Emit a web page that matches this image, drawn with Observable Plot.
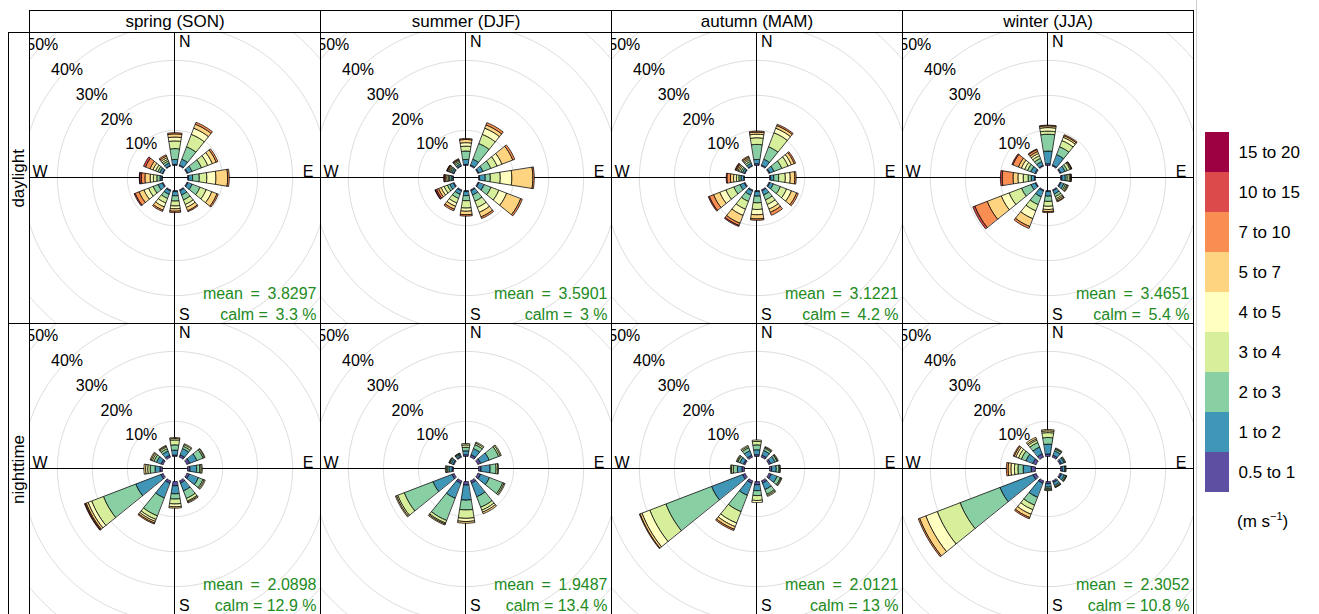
<!DOCTYPE html>
<html>
<head>
<meta charset="utf-8">
<script src="https://cdn.jsdelivr.net/npm/d3@7"></script>
<script src="https://cdn.jsdelivr.net/npm/@observablehq/plot@0.6"></script>
<style>
  body { margin: 0; background: #fff; font-family: "Liberation Sans", Arial, sans-serif; }
  #wrap { position: relative; width: 1319px; height: 614px; overflow: hidden; background: #fff; }
  .strip { position: absolute; box-sizing: border-box; border: 1px solid #000; background: #fff;
           font-size: 17px; display: flex; align-items: center; justify-content: center; color: #000; }
  .vstrip span { writing-mode: vertical-rl; transform: rotate(180deg); }
  #main { position: absolute; left: 29px; top: 32px; }
  #legend { position: absolute; left: 1205px; top: 131px; }
  #unit { position: absolute; left: 1237px; top: 510px; font-size: 17px; }
  #unit sup { font-size: 11px; }
  #vline { position: absolute; left: 1196px; top: 0; width: 1px; height: 614px; background: #cfcfcf; }
</style>
</head>
<body>
<div id="wrap"></div>
<script>
// ---------- data ----------
const seasons = ["spring (SON)", "summer (DJF)", "autumn (MAM)", "winter (JJA)"];
const periods = ["daylight", "nighttime"];
const directions = [0, 30, 60, 90, 120, 150, 180, 210, 240, 270, 300, 330];
const speedBins = ["0.5 to 1", "1 to 2", "2 to 3", "3 to 4", "4 to 5", "5 to 7", "7 to 10", "10 to 15", "15 to 20"];
const binColors = ["#5E4FA2", "#3F96B7", "#88CFA4", "#D7EF9B", "#FFFFBF", "#FED481", "#F98E52", "#DD4A4C", "#9E0142"];
const ringTicks = [10, 20, 30, 40, 50];

// frequency (%) per direction (rows, 0..330 deg) and speed bin (columns)
const springDay = [
  [0.3, 1.4, 3.1, 2.2, 1.1, 0.9, 0.35],
  [0.3, 1.8, 3.8, 3.8, 1.9, 1.2, 0.6],
  [0.3, 1.3, 2.9, 1.9, 1.4, 1.2, 0.5],
  [0.3, 1.15, 1.9, 2.15, 2.6, 3.35, 0.45],
  [0.3, 1.3, 2.4, 1.9, 1.7, 1.6, 0.4],
  [0.3, 1.3, 1.5, 1.4, 0.9, 1.0, 0.3],
  [0.3, 1.2, 1.5, 1.4, 0.8, 0.7, 0.4],
  [0.3, 1.05, 1.25, 1.4, 1.2, 1.0, 0.4],
  [0.3, 1.3, 1.5, 1.4, 1.4, 1.5, 1.2, 0.3],
  [0.2, 0.5, 0.9, 1.0, 0.9, 1.5, 1.0, 0.5, 0.1],
  [0.2, 0.8, 0.6, 0.7, 0.8, 0.9, 1.4, 0.6],
  [0.2, 0.8, 0.6, 0.5, 0.5, 0.5, 0.4]
];
const summerDay = [
  [0.3, 1.4, 2.4, 1.4, 1.0, 0.9, 0.3],
  [0.3, 1.8, 4.8, 2.8, 1.9, 1.0, 0.7],
  [0.3, 1.3, 2.4, 1.9, 1.5, 3.3, 0.6],
  [0.3, 1.6, 1.45, 2.85, 3.3, 6.0, 0.4],
  [0.3, 1.6, 2.1, 2.4, 2.4, 4.3, 0.5],
  [0.3, 1.3, 1.9, 1.9, 1.5, 1.4, 0.5],
  [0.3, 1.15, 1.45, 2.1, 0.9, 1.0, 0.4],
  [0.3, 1.05, 1.25, 1.4, 1.0, 0.9, 0.5],
  [0.3, 1.05, 0.75, 1.0, 0.9, 0.8, 0.6, 0.4, 0.1],
  [0.2, 0.5, 0.5, 0.3, 0.4, 0.4, 0.3, 0.2],
  [0.2, 0.5, 0.4, 0.3, 0.3, 0.3, 0.2, 0.1],
  [0.2, 0.5, 0.5, 0.4, 0.3, 0.2, 0.2]
];
const autumnDay = [
  [0.5, 1.2, 4.3, 1.9, 1.0, 0.6, 0.3],
  [0.3, 1.8, 3.8, 4.3, 1.4, 0.8, 0.4],
  [0.3, 1.3, 2.4, 1.9, 1.0, 0.9, 0.4],
  [0.3, 0.9, 1.4, 1.9, 1.4, 1.3, 0.4],
  [0.3, 1.05, 2.15, 1.9, 1.5, 1.6, 0.5],
  [0.3, 1.3, 1.5, 1.4, 1.4, 1.0, 0.9],
  [0.3, 1.3, 1.9, 1.9, 1.5, 1.2, 0.4],
  [0.3, 1.3, 1.9, 2.4, 1.9, 2.4, 0.7, 0.3],
  [0.3, 1.3, 1.9, 2.4, 1.9, 1.9, 1.3, 0.3],
  [0.2, 0.8, 0.6, 0.7, 0.8, 0.9, 1.0, 0.2],
  [0.2, 0.6, 0.5, 0.5, 0.4, 0.4, 0.3, 0.2],
  [0.2, 0.7, 0.6, 0.5, 0.4, 0.4, 0.3]
];
const winterDay = [
  [0.5, 3.6, 4.8, 0.9, 1.0, 0.5, 0.2],
  [0.3, 3.2, 2.4, 1.9, 1.0, 0.5, 0.3],
  [0.3, 1.3, 0.7, 0.8, 0.3, 0.2, 0.1],
  [0.4, 0.95, 0.55, 0.6, 0.3, 0.2, 0.1],
  [0.3, 0.9, 0.5, 0.4, 0.3, 0.2],
  [0.3, 1.0, 0.8, 0.6, 0.4, 0.4, 0.2],
  [0.3, 1.3, 1.5, 1.4, 0.9, 0.6, 0.3],
  [0.3, 1.8, 2.4, 1.9, 2.4, 2.4, 0.6],
  [0.3, 1.3, 2.9, 3.8, 2.4, 4.3, 3.8, 0.6],
  [0.3, 0.9, 0.9, 1.4, 1.5, 1.4, 3.1, 0.5],
  [0.3, 1.3, 1.0, 0.9, 1.0, 0.9, 1.7, 0.3],
  [0.3, 1.1, 1.0, 0.8, 0.7, 0.6, 0.6, 0.2]
];
const springNight = [
  [0.4, 1.4, 1.5, 1.4, 0.4, 0.3],
  [0.7, 1.9, 0.7, 0.5, 0.3],
  [0.9, 2.2, 1.9, 0.4, 0.2],
  [0.7, 1.9, 0.9, 0.4, 0.3],
  [0.7, 2.8, 1.4, 0.4, 0.3],
  [0.7, 2.4, 2.3, 0.8, 0.3, 0.3],
  [1.2, 2.3, 1.5, 1.4, 0.8, 0.4],
  [0.7, 4.5, 5.5, 1.1, 0.6, 0.5, 0.3],
  [0.7, 7.7, 9.9, 3.6, 1.1, 0.6, 0.3, 0.2],
  [0.7, 1.4, 1.4, 0.7, 0.6, 0.5],
  [0.6, 1.4, 0.8, 0.5, 0.4, 0.3],
  [0.6, 1.3, 0.7, 0.5, 0.3, 0.2]
];
const summerNight = [
  [0.5, 1.1, 1.0, 0.7, 0.4],
  [0.7, 1.9, 1.2, 0.5, 0.3],
  [0.9, 2.6, 2.9, 0.5, 0.3],
  [0.7, 2.6, 1.7, 0.5, 0.2],
  [0.8, 2.7, 4.1, 0.4, 0.3],
  [0.7, 4.2, 3.2, 0.9, 0.6, 0.5],
  [1.0, 4.3, 2.8, 2.4, 0.9, 0.5],
  [0.7, 4.6, 6.8, 0.8, 0.3, 0.3],
  [0.7, 5.8, 8.8, 2.0, 0.4, 0.3],
  [0.4, 0.9, 0.5, 0.3, 0.2],
  [0.3, 0.6, 0.4, 0.2, 0.1],
  [0.3, 0.5, 0.3, 0.1, 0.1]
];
const autumnNight = [
  [0.5, 1.4, 1.4, 1.0, 0.4],
  [0.6, 1.4, 0.7, 0.3, 0.2],
  [0.6, 1.3, 0.6, 0.2, 0.2],
  [0.6, 1.3, 0.8, 0.2, 0.2],
  [0.7, 1.8, 1.0, 0.3, 0.2],
  [0.7, 2.0, 1.4, 0.4, 0.3],
  [0.9, 1.7, 1.4, 1.4, 0.6],
  [0.7, 3.7, 5.0, 3.5, 1.1, 0.8, 0.4],
  [0.8, 9.5, 14.0, 4.9, 2.4, 0.6, 0.2],
  [0.7, 1.3, 1.2, 0.5, 0.3],
  [0.5, 1.1, 0.6, 0.3, 0.2],
  [0.6, 1.4, 0.9, 0.4, 0.3]
];
const winterNight = [
  [0.7, 2.8, 1.9, 1.4, 0.5, 0.4],
  [0.6, 1.3, 0.5, 0.2, 0.2],
  [0.5, 0.8, 0.3, 0.2],
  [0.5, 0.7, 0.2, 0.2],
  [0.5, 0.9, 0.4, 0.2, 0.1],
  [0.5, 0.9, 0.4, 0.2, 0.1],
  [0.6, 1.0, 0.5, 0.3, 0.2],
  [0.7, 4.3, 2.4, 1.4, 1.4, 1.0, 0.4],
  [1.0, 10.1, 12.2, 7.0, 3.5, 1.9, 0.4],
  [1.2, 2.3, 1.5, 1.0, 1.0, 0.8, 0.5],
  [1.0, 2.1, 1.4, 0.9, 0.8, 0.5, 0.3],
  [1.0, 2.1, 1.4, 0.7, 0.4, 0.5]
];
const roses = [springDay, summerDay, autumnDay, winterDay, springNight, summerNight, autumnNight, winterNight];
const meanSpeed = ["3.8297", "3.5901", "3.1221", "3.4651", "2.0898", "1.9487", "2.0121", "2.3052"];
const calmPct = ["3.3", "3", "4.2", "5.4", "12.9", "13.4", "13", "10.8"];

// ---------- geometry helpers (polar -> cartesian in % units) ----------
const offset = 3.6;      // centre hole (10% of max frequency)
const L = 41.57;         // half extent of each panel
const halfWidth = 9;     // half angular width of each paddle (deg)
const rad = Math.PI / 180;

const panels = roses.map((rose, p) => ({
  season: seasons[p % 4], period: periods[Math.floor(p / 4)],
  rose, mean: meanSpeed[p], calm: calmPct[p]
}));

const verts = [];
panels.forEach((pn, p) => {
  pn.rose.forEach((freqs, i) => {
    const a = directions[i];
    let cum = 0;
    freqs.forEach((f, k) => {
      if (!(f > 0)) return;
      const r1 = offset + cum, r2 = offset + cum + f;
      cum += f;
      const id = `${p}-${i}-${k}`;
      const n = 8, pts = [];
      for (let j = 0; j <= n; j++) pts.push(a - halfWidth + (2 * halfWidth * j) / n);
      for (const t of pts) verts.push({id, season: pn.season, period: pn.period, cat: speedBins[k], x: r2 * Math.sin(t * rad), y: r2 * Math.cos(t * rad)});
      for (const t of pts.slice().reverse()) verts.push({id, season: pn.season, period: pn.period, cat: speedBins[k], x: r1 * Math.sin(t * rad), y: r1 * Math.cos(t * rad)});
    });
  });
});

const ringVerts = [];
for (const t of ringTicks) {
  for (let a = 0; a < 360; a += 2) {
    ringVerts.push({ring: t, x: (t + offset) * Math.sin(a * rad), y: (t + offset) * Math.cos(a * rad)});
  }
}

const font = '"Liberation Sans", Arial, sans-serif';
const green = "#228B22";
const calmLabel = c => `calm = ${parseFloat(c) < 10 ? "\u2009" : ""}${c} %`;

const main = Plot.plot({
  width: 1164, height: 582, margin: 0,
  x: {domain: [-L, L], axis: null},
  y: {domain: [-L, L], axis: null},
  fx: {domain: seasons, axis: null, padding: 0},
  fy: {domain: periods, axis: null, padding: 0},
  color: {domain: speedBins, range: binColors},
  style: {fontFamily: font, fontSize: "16px", overflow: "visible", background: "transparent", color: "#000"},
  marks: [
    Plot.line(ringVerts, {x: "x", y: "y", z: "ring", stroke: "#dddddd", strokeWidth: 1, curve: "linear-closed", clip: true}),
    Plot.ruleX([0], {stroke: "#000", strokeWidth: 1, dx: -0.5}),
    Plot.ruleY([0], {stroke: "#000", strokeWidth: 1, dy: -0.5}),
    Plot.line(verts, {x: "x", y: "y", z: "id", fx: "season", fy: "period", fill: "cat", stroke: "#000", strokeWidth: 0.75, curve: "linear-closed", clip: true}),
    Plot.text(ringTicks, {x: d => -(d + offset) * Math.SQRT1_2, y: d => (d + offset) * Math.SQRT1_2, text: d => `${d}%`, fontSize: 16, fill: "#000", clip: true}),
    Plot.text(["N"], {text: d => d, frameAnchor: "top", textAnchor: "start", dx: 4, dy: 3, fontSize: 16, fill: "#000"}),
    Plot.text(["S"], {text: d => d, frameAnchor: "bottom", textAnchor: "start", dx: 4, dy: -4, fontSize: 16, fill: "#000"}),
    Plot.text(["E"], {text: d => d, frameAnchor: "right", textAnchor: "end", lineAnchor: "bottom", dx: -7, dy: -1, fontSize: 16, fill: "#000"}),
    Plot.text(["W"], {text: d => d, frameAnchor: "left", textAnchor: "start", lineAnchor: "bottom", dx: 3, dy: -1, fontSize: 16, fill: "#000"}),
    Plot.text(panels, {fx: "season", fy: "period", text: d => `mean \u2009= \u2009${d.mean}`, frameAnchor: "bottom-right", textAnchor: "end", lineAnchor: "bottom", dx: -4, dy: -25, fontSize: 16, fill: green}),
    Plot.text(panels, {fx: "season", fy: "period", text: d => calmLabel(d.calm), frameAnchor: "bottom-right", textAnchor: "end", lineAnchor: "bottom", dx: -4, dy: -4, fontSize: 16, fill: green}),
    Plot.frame({stroke: "#000", strokeWidth: 1})
  ]
});
main.id = "main";

const legend = Plot.plot({
  width: 115, height: 362, margin: 0, marginRight: 91,
  y: {domain: speedBins.slice().reverse(), axis: null, padding: 0},
  color: {domain: speedBins, range: binColors},
  style: {fontFamily: font, fontSize: "17px", overflow: "visible", background: "transparent"},
  marks: [
    Plot.cell(speedBins, {y: d => d, fill: d => d}),
    Plot.text(speedBins, {y: d => d, text: d => d, frameAnchor: "right", textAnchor: "start", dx: 9, fontSize: 17, fill: "#000"})
  ]
});
legend.id = "legend";

const wrap = document.getElementById("wrap");
seasons.forEach((s, i) => {
  const d = document.createElement("div");
  d.className = "strip";
  Object.assign(d.style, {left: `${29 + 291 * i}px`, top: "10px", width: "292px", height: "23px"});
  d.textContent = s;
  wrap.appendChild(d);
});
periods.forEach((s, j) => {
  const d = document.createElement("div");
  d.className = "strip vstrip";
  Object.assign(d.style, {left: "8px", top: `${32 + 291 * j}px`, width: "22px", height: "292px"});
  const sp = document.createElement("span");
  sp.textContent = s;
  d.appendChild(sp);
  wrap.appendChild(d);
});
const vline = document.createElement("div");
vline.id = "vline";
wrap.appendChild(vline);
wrap.appendChild(main);
wrap.appendChild(legend);
const unit = document.createElement("div");
unit.id = "unit";
unit.innerHTML = "(m s<sup>\u22121</sup>)";
wrap.appendChild(unit);
</script>
</body>
</html>
